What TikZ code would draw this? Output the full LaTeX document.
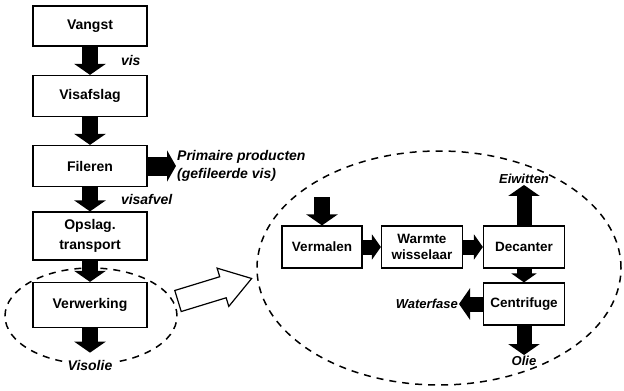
\documentclass[tikz,border=0pt]{standalone}
\usepackage{fontspec}
\setmainfont{Liberation Sans}
\usetikzlibrary{arrows.meta}

\tikzset{
  blok/.style={draw, line width=1.2pt, minimum width=114pt, minimum height=40pt, align=center, inner sep=2pt, font=\fontsize{14}{20}\selectfont\bfseries},
  klein/.style={blok, minimum width=81pt, minimum height=42pt, font=\fontsize{13.5}{16}\selectfont\bfseries},
  dik/.style={line width=16pt, -{Triangle[length=11pt,width=31pt]}},
  kort/.style={line width=15pt, -{Triangle[length=9pt,width=25pt]}},
  stroom/.style={inner sep=1pt, align=left, font=\fontsize{14}{18}\selectfont\bfseries\itshape},
  binnen/.style={stroom, font=\fontsize{13}{16}\selectfont\bfseries\itshape},
  ovaal/.style={line width=1.5pt, dash pattern=on 7pt off 6pt}
}

\begin{document}
\begin{tikzpicture}[x=1pt,y=-1pt]
\useasboundingbox (0,0) rectangle (624,391);
% stippellijnen
\draw[ovaal] (91,316) ellipse [x radius=86pt, y radius=48pt];
\draw[ovaal] (439,268) ellipse [x radius=182pt, y radius=117pt];
% linker kolom
\node[blok] (vangst) at (90,26) {Vangst};
\node[blok, minimum height=41pt] (visafslag) at (90,96) {Visafslag};
\node[blok, minimum height=41pt] (fileren) at (90,166) {Fileren};
\node[blok, minimum height=48pt] (opslag) at (90,236) {Opslag.\\transport};
\node[blok, minimum height=45pt] (verwerking) at (90,305) {Verwerking};
\node[stroom, anchor=west] (primair) at (176,166) {Primaire producten\\(gefileerde vis)};
\node[stroom, fill=white, inner sep=4pt] (visolie) at (90,365) {Visolie};
\draw[dik] (vangst) -- node[stroom, right=22pt] {vis} (visafslag);
\draw[dik] (visafslag) -- (fileren);
\draw[dik, line width=19pt, -{Triangle[length=9pt,width=31pt]}] (fileren) -- (primair);
\draw[dik] (fileren) -- node[stroom, right=22pt] {visafvel} (opslag);
\draw[dik] (opslag) -- (verwerking);
\draw[dik, shorten >=3pt] (verwerking) -- (visolie);
% holle pijl
\begin{scope}[shift={(178,301)}, rotate=17]
\draw[line width=1.2pt, fill=white] (0,-11) -- (47,-11) -- (47,-20) -- (77,0) -- (47,20) -- (47,11) -- (0,11) -- cycle;
\end{scope}
% verwerking in detail
\node[klein, minimum width=80pt] (vermalen) at (322,247) {Vermalen};
\node[klein] (warmte) at (422,247) {Warmte\\wisselaar};
\node[klein] (decanter) at (524,247) {Decanter};
\node[klein] (centrifuge) at (524,304) {Centrifuge};
\node[binnen] (eiwitten) at (524,179) {Eiwitten};
\node[binnen, anchor=east] (waterfase) at (459,304) {Waterfase};
\node[binnen] (olie) at (524,361) {Olie};
\coordinate (invoer) at (322,197);
\draw[dik] (invoer) -- (vermalen);
\draw[kort] (vermalen) -- (warmte);
\draw[kort] (warmte) -- (decanter);
\draw[dik, line width=15pt] (decanter) -- (eiwitten);
\draw[kort] (decanter) -- (centrifuge);
\draw[dik, line width=15pt] (centrifuge) -- (waterfase);
\draw[dik, line width=15pt] (centrifuge) -- (olie);
\end{tikzpicture}
\end{document}
